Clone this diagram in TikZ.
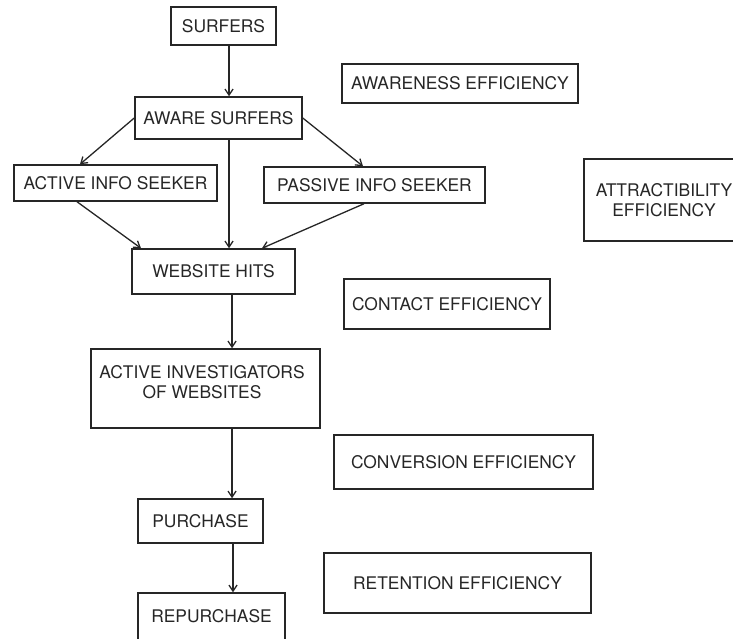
\documentclass[tikz,border=0pt]{standalone}
\usepackage{fontspec}
\setmainfont{TeX Gyre Heros}
\usetikzlibrary{arrows.meta}
\begin{document}
\begin{tikzpicture}[x=1pt,y=-1pt,
  box/.style={draw=black!85,line width=1.5pt,rectangle,inner sep=0pt,align=center,
    font=\fontsize{17.4}{20}\selectfont,text=black!85},
  arr/.style={draw=black!85,line width=1.3pt,-{Straight Barb[length=6pt,width=8pt]}}]
\useasboundingbox (0,0) rectangle (733,639);
% flow boxes
\node[box,minimum width=105,minimum height=38] (surf) at (223.5,26) {SURFERS};
\node[box,minimum width=167,minimum height=42] (aware) at (218.5,118) {AWARE SURFERS};
\node[box,minimum width=203,minimum height=36] (active) at (115.5,183) {ACTIVE INFO SEEKER};
\node[box,minimum width=221,minimum height=36] (passive) at (374.5,185) {PASSIVE INFO SEEKER};
\node[box,minimum width=163,minimum height=45] (hits) at (213.5,271.5) {WEBSITE HITS};
\node[box,minimum width=229,minimum height=79] (inv) at (205.5,388.5) {};
\node[box,draw=none] (invt) at (202,382.5) {ACTIVE INVESTIGATORS\\OF WEBSITES};
\node[box,minimum width=125,minimum height=44] (purch) at (200.5,521) {PURCHASE};
\node[box,minimum width=147,minimum height=47] (repurch) at (211.5,616.5) {REPURCHASE};
% efficiency boxes
\node[box,minimum width=236,minimum height=39] (aweff) at (460,83.5) {AWARENESS EFFICIENCY};
\node[box,minimum width=160,minimum height=82] (attr) at (664,200) {ATTRACTIBILITY\\EFFICIENCY};
\node[box,minimum width=206,minimum height=50] (contact) at (447,304) {CONTACT EFFICIENCY};
\node[box,minimum width=259,minimum height=54] (conv) at (463.5,462) {CONVERSION EFFICIENCY};
\node[box,minimum width=267,minimum height=60] (ret) at (457.5,583) {RETENTION EFFICIENCY};
% connectors
\draw[arr] (surf.south -| 229,0) -- (aware.north -| 229,0);
\draw[arr] (aware.west) -- (active.north -| 80,0);
\draw[arr] (aware.east) -- (passive.north -| 363,0);
\draw[arr] (aware.south -| 229,0) -- (hits.north -| 229,0);
\draw[arr] (active.south -| 77,0) -- (hits.north -| 141,0);
\draw[arr] (passive.south -| 364,0) -- (hits.north -| 262,0);
\draw[arr] (hits.south -| 232,0) -- (inv.north -| 232,0);
\draw[arr] (inv.south -| 232,0) -- (purch.north -| 232,0);
\draw[arr] (purch.south -| 233,0) -- (repurch.north -| 233,0);
\end{tikzpicture}
\end{document}
